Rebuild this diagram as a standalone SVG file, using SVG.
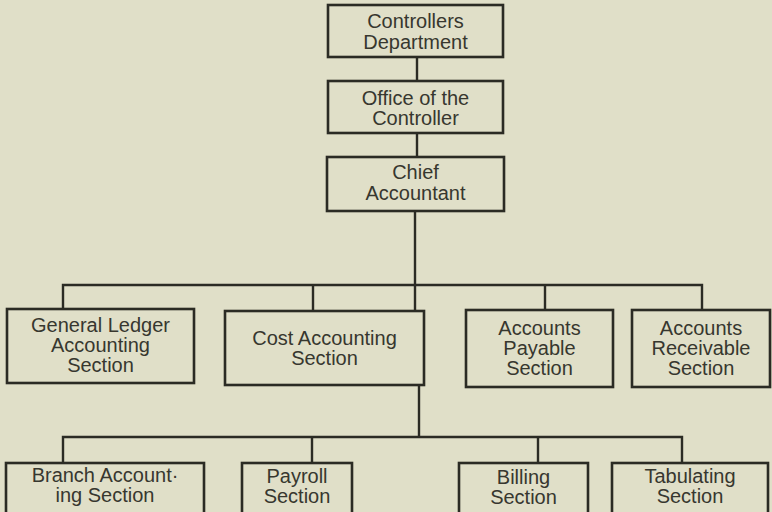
<svg xmlns="http://www.w3.org/2000/svg" width="772" height="512" viewBox="0 0 772 512">
  <style>
    .box { fill: none; stroke: #2b2b24; stroke-width: 2.6; }
    .wire { fill: none; stroke: #2b2b24; stroke-width: 2.4; }
    .lbl { font-family: "Liberation Sans", Arial, sans-serif; font-size: 20px; fill: #37372f; text-anchor: middle; }
  </style>
  <rect x="0" y="0" width="772" height="512" fill="#e0dfc8"/>

  <g id="connectors">
    <path class="wire" d="M417,57 V81"/>
    <path class="wire" d="M417,133 V157"/>
    <path class="wire" d="M415,211 V311"/>
    <path class="wire" d="M63,309 V285 H702 V310"/>
    <path class="wire" d="M313,285 V311"/>
    <path class="wire" d="M545,285 V310"/>
    <path class="wire" d="M419,385 V437"/>
    <path class="wire" d="M63,463 V437 H682 V463"/>
    <path class="wire" d="M312,437 V463"/>
    <path class="wire" d="M538,437 V463"/>
  </g>

  <g id="controllers-department">
    <rect class="box" x="328" y="5" width="175" height="52"/>
    <text class="lbl" x="415.5" y="28">Controllers</text>
    <text class="lbl" x="415.5" y="49">Department</text>
  </g>

  <g id="office-of-the-controller">
    <rect class="box" x="328" y="81" width="175" height="52"/>
    <text class="lbl" x="415.5" y="105">Office of the</text>
    <text class="lbl" x="415.5" y="125">Controller</text>
  </g>

  <g id="chief-accountant">
    <rect class="box" x="327" y="157" width="177" height="54"/>
    <text class="lbl" x="415.5" y="179">Chief</text>
    <text class="lbl" x="415.5" y="200">Accountant</text>
  </g>

  <g id="general-ledger">
    <rect class="box" x="7" y="309" width="187" height="74"/>
    <text class="lbl" x="100.5" y="332">General Ledger</text>
    <text class="lbl" x="100.5" y="352">Accounting</text>
    <text class="lbl" x="100.5" y="372">Section</text>
  </g>

  <g id="cost-accounting">
    <rect class="box" x="225" y="311" width="199" height="74"/>
    <text class="lbl" x="324.5" y="345">Cost Accounting</text>
    <text class="lbl" x="324.5" y="365">Section</text>
  </g>

  <g id="accounts-payable">
    <rect class="box" x="466" y="310" width="147" height="77"/>
    <text class="lbl" x="539.5" y="335">Accounts</text>
    <text class="lbl" x="539.5" y="355">Payable</text>
    <text class="lbl" x="539.5" y="375">Section</text>
  </g>

  <g id="accounts-receivable">
    <rect class="box" x="632" y="310" width="138" height="77"/>
    <text class="lbl" x="701" y="335">Accounts</text>
    <text class="lbl" x="701" y="355">Receivable</text>
    <text class="lbl" x="701" y="375">Section</text>
  </g>

  <g id="branch-accounting">
    <rect class="box" x="6" y="463" width="198" height="60"/>
    <text class="lbl" x="105" y="482">Branch Account·</text>
    <text class="lbl" x="105" y="502">ing Section</text>
  </g>

  <g id="payroll">
    <rect class="box" x="242" y="463" width="110" height="60"/>
    <text class="lbl" x="297" y="483">Payroll</text>
    <text class="lbl" x="297" y="503">Section</text>
  </g>

  <g id="billing">
    <rect class="box" x="459" y="463" width="129" height="60"/>
    <text class="lbl" x="523.5" y="484">Billing</text>
    <text class="lbl" x="523.5" y="504">Section</text>
  </g>

  <g id="tabulating">
    <rect class="box" x="612" y="463" width="156" height="60"/>
    <text class="lbl" x="690" y="483">Tabulating</text>
    <text class="lbl" x="690" y="503">Section</text>
  </g>
</svg>
